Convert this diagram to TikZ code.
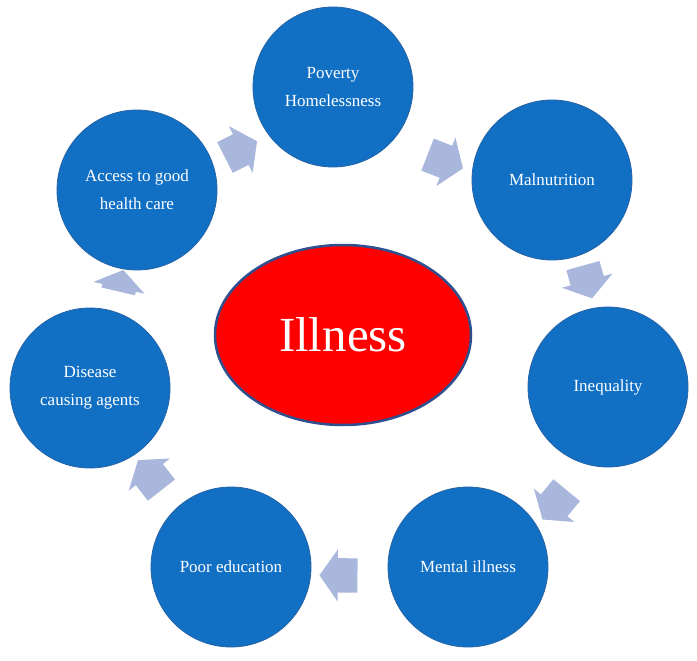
\documentclass[tikz,border=0pt]{standalone}
\usepackage{fontspec}
\setmainfont{Liberation Serif}
\usetikzlibrary{shapes.geometric, shapes.arrows}

\definecolor{circblue}{HTML}{1170C4}
\definecolor{circedge}{HTML}{2563A6}
\definecolor{arrowblue}{HTML}{A9B7DC}
\definecolor{illedge}{HTML}{2F4F8F}

\begin{document}
\begin{tikzpicture}[
    x=1pt, y=1pt,
    stage/.style={circle, minimum size=160pt, inner sep=0pt, text centered, align=center, draw=circedge, line width=0.8pt, fill=circblue, text=white, font=\fontsize{17}{28}\selectfont},
    core/.style={ellipse, minimum width=256pt, minimum height=180pt, inner sep=0pt, text centered, draw=illedge, line width=2.5pt, fill=red, text=white, font=\fontsize{49}{49}\selectfont},
    cyclearrow/.style={single arrow, single arrow head extend=9pt, single arrow tip angle=110, minimum width=52pt, inner xsep=0pt, inner ysep=17pt, fill=arrowblue, draw=none, sloped, allow upside down},
]
\useasboundingbox (0,0) rectangle (697,-661);

% Center
\node[core] (illness) at (343,-335) {Illness};

% Cycle circles
\node[stage] (poverty) at (333,-87) {Poverty\\Homelessness};
\node[stage] (malnut) at (552,-180) {Malnutrition};
\node[stage] (inequal) at (608,-387) {Inequality};
\node[stage] (mental) at (468,-567) {Mental illness};
\node[stage] (educ) at (231,-567) {Poor education};
\node[stage] (disease) at (90,-388) {Disease\\causing agents};
\node[stage] (access) at (137,-190) {Access to good\\health care};

% Arrows between circles
\path (access.center) to[bend right=11] node[cyclearrow, pos=0.472, minimum height=36pt] {} (poverty.center);
\path (poverty.center) to[bend right=21] node[cyclearrow, pos=0.533, minimum height=38pt] {} (malnut.center);
\path (malnut.center) to[bend left=7] node[cyclearrow, pos=0.472, minimum height=34pt] {} (inequal.center);
\path (inequal.center) to[bend left=27] node[cyclearrow, pos=0.526, minimum height=38pt] {} (mental.center);
\path (mental.center) to[bend left=7] node[cyclearrow, pos=0.523, minimum height=38pt] {} (educ.center);
\path (educ.center) to[bend left=6] node[cyclearrow, pos=0.512, minimum height=38pt] {} (disease.center);
\path (disease.center) to[bend right=5] node[cyclearrow, pos=0.52, minimum height=22pt] {} (access.center);

\end{tikzpicture}
\end{document}
